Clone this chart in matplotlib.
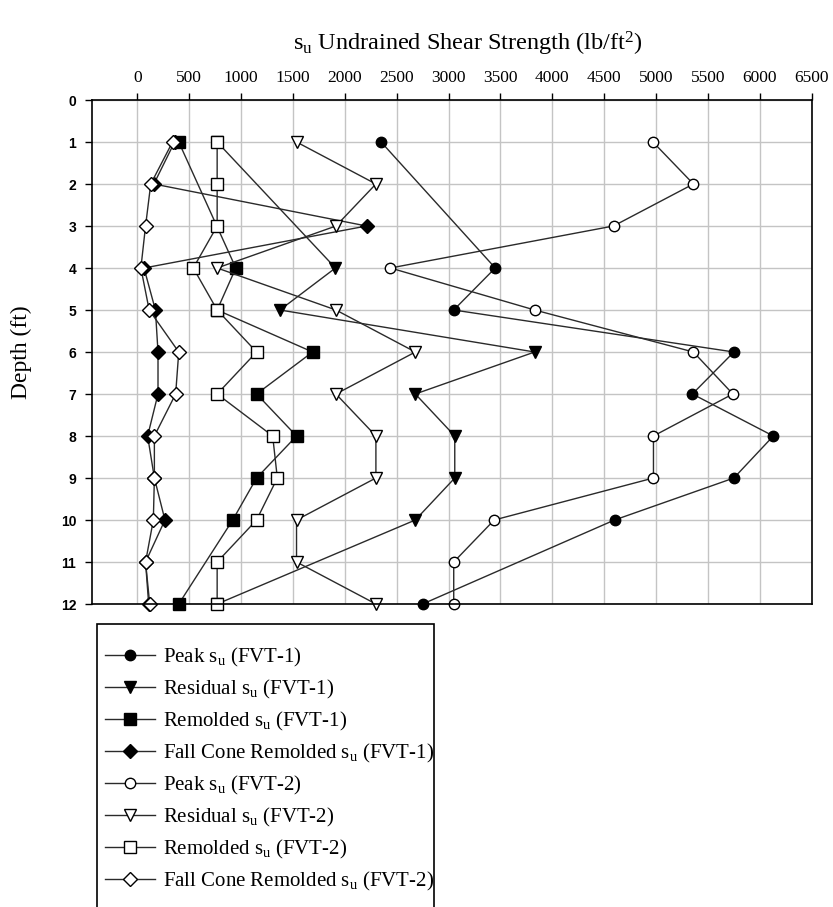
"""Field vane and fall cone undrained shear strength vs depth (FVT-1 / FVT-2)."""
import matplotlib
matplotlib.use("Agg")
import matplotlib.pyplot as plt
from matplotlib.patches import Rectangle

plt.rcParams["font.family"] = ["Liberation Serif", "DejaVu Serif"]
plt.rcParams["mathtext.default"] = "regular"

W, H = 833, 907

# depth (ft) and s_u (lb/ft^2)
PEAK_1_DEPTH = [1, 4, 5, 6, 7, 8, 9, 10, 12]
PEAK_1 = [2350, 3450, 3050, 5750, 5350, 6130, 5750, 4600, 2750]

RESID_1_DEPTH = [1, 4, 5, 6, 7, 8, 9, 10, 12]
RESID_1 = [770, 1910, 1375, 3830, 2680, 3060, 3060, 2680, 770]

REMOLD_1_DEPTH = [1, 4, 5, 6, 7, 8, 9, 10, 12]
REMOLD_1 = [400, 950, 770, 1690, 1150, 1535, 1150, 920, 400]

DEPTH = list(range(1, 13))
CONE_1 = [360, 160, 2210, 65, 175, 200, 200, 100, 165, 267, 80, 110]
PEAK_2 = [4970, 5360, 4590, 2440, 3830, 5360, 5740, 4975, 4975, 3440, 3050, 3050]
RESID_2 = [1535, 2300, 1915, 770, 1915, 2680, 1915, 2300, 2300, 1535, 1535, 2300]
REMOLD_2 = [770, 770, 770, 540, 770, 1150, 770, 1305, 1350, 1150, 770, 770]
CONE_2 = [340, 130, 80, 35, 115, 400, 370, 165, 165, 155, 80, 120]

LABELS = [
    "Peak s$_u$ (FVT-1)",
    "Residual s$_u$ (FVT-1)",
    "Remolded s$_u$ (FVT-1)",
    "Fall Cone Remolded s$_u$ (FVT-1)",
    "Peak s$_u$ (FVT-2)",
    "Residual s$_u$ (FVT-2)",
    "Remolded s$_u$ (FVT-2)",
    "Fall Cone Remolded s$_u$ (FVT-2)",
]

SERIES = [
    (PEAK_1, PEAK_1_DEPTH, "o", "black", 7.5),
    (RESID_1, RESID_1_DEPTH, "v", "black", 8),
    (REMOLD_1, REMOLD_1_DEPTH, "s", "black", 8),
    (CONE_1, DEPTH, "D", "black", 7),
    (PEAK_2, DEPTH, "o", "white", 7.5),
    (RESID_2, DEPTH, "v", "white", 8),
    (REMOLD_2, DEPTH, "s", "white", 8),
    (CONE_2, DEPTH, "D", "white", 7),
]

fig = plt.figure(figsize=(W / 100, H / 100), dpi=100)
left, right, top, bottom = 91.6, 811.7, 100, 604
ax = fig.add_axes([left / W, 1 - bottom / H, (right - left) / W, (bottom - top) / H])

handles = []
for (vals, depth, marker, face, ms), label in zip(SERIES, LABELS):
    (line,) = ax.plot(vals, depth, color="#2a2a2a", lw=1.0, marker=marker,
                      markersize=ms, markerfacecolor=face, markeredgecolor="black",
                      markeredgewidth=1.0, label=label, clip_on=False)
    handles.append(line)

ax.set_xlim(-440, 6500)
ax.set_ylim(12, 0)
ax.set_xticks(range(0, 6501, 500))
ax.set_yticks(range(0, 13))
ax.xaxis.tick_top()
ax.grid(color="#c4c4c4", lw=1.0)
ax.set_axisbelow(True)
for s in ax.spines.values():
    s.set_linewidth(1.2)
ax.tick_params(axis="x", direction="out", length=5, width=1, pad=5, labelsize=12.5)
ax.tick_params(axis="y", direction="out", length=5, width=1, pad=6)
for t in ax.get_yticklabels():
    t.set_fontfamily("Liberation Sans")
    t.set_fontweight("bold")
    t.set_fontsize(10)

fig.text(468 / W, 1 - 44 / H,
         "s$_u$ Undrained Shear Strength (lb/ft$^2$)",
         ha="center", va="center", fontsize=17.5)
fig.text(21 / W, 1 - 352 / H, "Depth (ft)", rotation=90,
         ha="center", va="center", fontsize=17)

fig.legend(handles, LABELS, loc="upper left", bbox_to_anchor=(105 / W, 1 - 646 / H),
           frameon=False, borderpad=0, borderaxespad=0, handlelength=2.4,
           handletextpad=0.4, labelspacing=0.43, fontsize=15)
fig.patches.append(Rectangle((97 / W, -0.01), (434 - 97) / W, (H - 624) / H + 0.01,
                             transform=fig.transFigure, fill=False, lw=1.2,
                             edgecolor="black"))

fig.savefig("out.png", dpi=100)
